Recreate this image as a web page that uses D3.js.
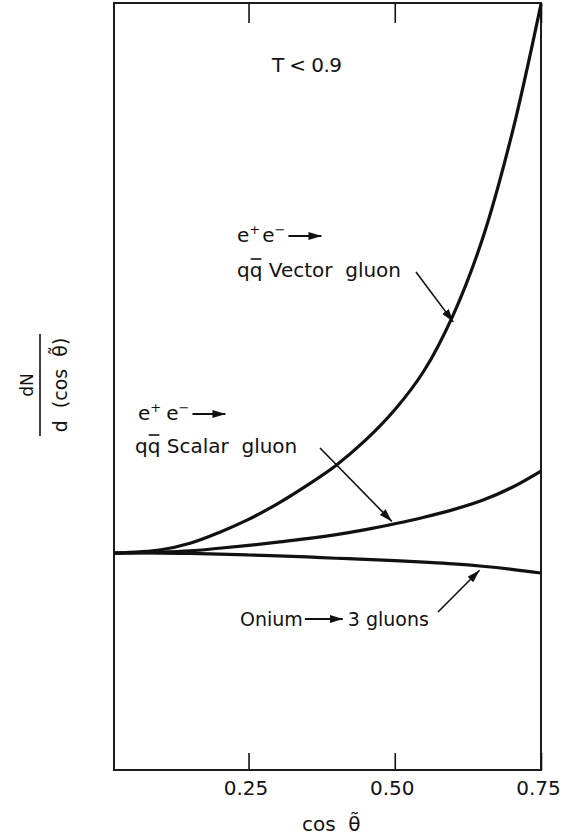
<!DOCTYPE html>
<html>
<head>
<meta charset="utf-8">
<script src="https://cdn.jsdelivr.net/npm/d3@7"></script>
<style>
  html, body { margin: 0; padding: 0; background: #fff; }
  svg { display: block; }
  text { font-family: "DejaVu Sans", "Liberation Sans", sans-serif; fill: #111; }
</style>
</head>
<body>
<svg id="chart" width="562" height="838"></svg>
<script>
// Angular distribution dN/d(cos θ̃) for thrust T < 0.9
const cosTheta = [0.02, 0.10, 0.15, 0.20, 0.25, 0.30, 0.35, 0.40, 0.45, 0.50, 0.55, 0.60, 0.65, 0.70, 0.75];
const vectorGluon = [1.00, 1.015, 1.045, 1.095, 1.155, 1.228, 1.312, 1.405, 1.52, 1.66, 1.84, 2.098, 2.448, 2.928, 3.53];
const scalarGluon = [1.00, 1.004, 1.01, 1.022, 1.035, 1.05, 1.066, 1.085, 1.108, 1.135, 1.165, 1.20, 1.243, 1.302, 1.378];
const oniumGluons = [1.00, 1.00, 0.998, 0.995, 0.991, 0.987, 0.982, 0.976, 0.971, 0.965, 0.958, 0.95, 0.939, 0.925, 0.908];
const xTicks = [0.25, 0.50, 0.75];
const xTickLabels = ["0.25", "0.50", "0.75"];

const svg = d3.select("#chart");
const plotLeft = 114, plotRight = 541, plotTop = 3, plotBottom = 770;

const x = d3.scaleLinear().domain([0.02, 0.75]).range([plotLeft, plotRight]);
const y = d3.scaleLinear().domain([0, 3.535]).range([plotBottom, plotTop]);

const ink = "#111";

// arrowhead marker
const defs = svg.append("defs");
defs.append("marker")
  .attr("id", "head")
  .attr("viewBox", "0 0 13 8")
  .attr("refX", 13).attr("refY", 4)
  .attr("markerWidth", 13).attr("markerHeight", 8)
  .attr("markerUnits", "userSpaceOnUse")
  .attr("orient", "auto")
  .append("path").attr("d", "M0,0 L13,4 L0,8 Z").attr("fill", ink);

// frame
svg.append("rect")
  .attr("x", plotLeft).attr("y", plotTop)
  .attr("width", plotRight - plotLeft).attr("height", plotBottom - plotTop)
  .attr("fill", "none").attr("stroke", ink).attr("stroke-width", 1.9);

// bottom axis: inward ticks with labels
const xAxis = d3.axisBottom(x)
  .tickValues(xTicks)
  .tickFormat((d, i) => xTickLabels[i])
  .tickSizeInner(-17).tickSizeOuter(0).tickPadding(11);
const gx = svg.append("g").attr("transform", `translate(0,${plotBottom})`).call(xAxis);
gx.select(".domain").remove();
gx.selectAll(".tick line").attr("stroke", ink).attr("stroke-width", 1.6);
gx.selectAll(".tick text")
  .attr("font-family", "DejaVu Sans, sans-serif")
  .attr("font-size", 20).attr("fill", ink).attr("dx", -3);

// top axis: inward ticks only
const xTop = d3.axisTop(x).tickValues(xTicks).tickFormat("")
  .tickSizeInner(-20).tickSizeOuter(0);
const gt = svg.append("g").attr("transform", `translate(0,${plotTop})`).call(xTop);
gt.select(".domain").remove();
gt.selectAll(".tick line").attr("stroke", ink).attr("stroke-width", 1.6);

// curves
const line = d3.line()
  .x((d, i) => x(cosTheta[i]))
  .y(d => y(d))
  .curve(d3.curveCatmullRom.alpha(0.5));

[vectorGluon, scalarGluon, oniumGluons].forEach(series => {
  svg.append("path")
    .datum(series)
    .attr("d", line)
    .attr("fill", "none")
    .attr("stroke", ink)
    .attr("stroke-width", 3.2)
    .attr("stroke-linejoin", "round");
});

// helpers for annotations
function arrow(x1, y1, x2, y2, w) {
  svg.append("line")
    .attr("x1", x1).attr("y1", y1).attr("x2", x2).attr("y2", y2)
    .attr("stroke", ink).attr("stroke-width", w || 1.6)
    .attr("marker-end", "url(#head)");
}

// "e⁺e⁻ →" line
function eeLine(x0, yb, gap) {
  const t = svg.append("text").attr("x", x0).attr("y", yb).attr("font-size", 20);
  t.append("tspan").text("e");
  t.append("tspan").attr("dy", -8).attr("font-size", 13).text("+");
  t.append("tspan").attr("dy", 8).attr("dx", gap).text("e");
  t.append("tspan").attr("dy", -8).attr("font-size", 13).text("\u2212");
  const end = t.node().getBBox();
  arrow(end.x + end.width + 3, yb - 6, end.x + end.width + 36, yb - 6, 1.8);
}

// "qq̄ ..." line: overbar on the second q
function qqLine(x0, yb, label) {
  const t = svg.append("text").attr("x", x0).attr("y", yb).attr("font-size", 20)
    .attr("xml:space", "preserve").text("qq " + label);
  const n = t.node();
  const s = n.getStartPositionOfChar(1).x;
  const e = n.getEndPositionOfChar(1).x;
  svg.append("line")
    .attr("x1", s + 1).attr("x2", e - 1)
    .attr("y1", yb - 18).attr("y2", yb - 18)
    .attr("stroke", ink).attr("stroke-width", 1.6);
  return t;
}

// T < 0.9
svg.append("text").attr("x", 272).attr("y", 72).attr("font-size", 20)
  .attr("letter-spacing", -0.6).text("T < 0.9");

// vector gluon annotation
eeLine(237, 242, 2);
qqLine(237, 277, "Vector  gluon");
arrow(416, 272, x(0.6), y(2.07) + 1);

// scalar gluon annotation
eeLine(138, 420, 5);
qqLine(135, 453, "Scalar  gluon");
arrow(320, 448, x(0.495), y(1.132) - 3);

// onium annotation
const on = svg.append("text").attr("x", 240).attr("y", 626).attr("font-size", 19).text("Onium");
const onBox = on.node().getBBox();
arrow(onBox.x + onBox.width + 2, 619, onBox.x + onBox.width + 40, 619, 1.8);
svg.append("text").attr("x", onBox.x + onBox.width + 45).attr("y", 626).attr("font-size", 19).text("3 gluons");
arrow(438, 612, x(0.645), y(0.939) + 4);

// x-axis title: cos θ̃ (theta with combining tilde)
svg.append("text").attr("x", 302).attr("y", 831).attr("font-size", 20)
  .attr("xml:space", "preserve").text("cos  \u03B8\u0303");

// y-axis title: dN / d(cos θ̃), rotated
const yg = svg.append("g").attr("transform", "translate(0,385) rotate(-90)");
yg.append("text").attr("x", 0).attr("y", 33).attr("font-size", 17)
  .attr("text-anchor", "middle").text("dN");
yg.append("line").attr("x1", -51).attr("x2", 51).attr("y1", 40).attr("y2", 40)
  .attr("stroke", ink).attr("stroke-width", 1.6);
yg.append("text").attr("x", 0).attr("y", 67).attr("font-size", 19)
  .attr("text-anchor", "middle").attr("xml:space", "preserve").text("d  (cos  \u03B8\u0303)");
</script>
</body>
</html>
